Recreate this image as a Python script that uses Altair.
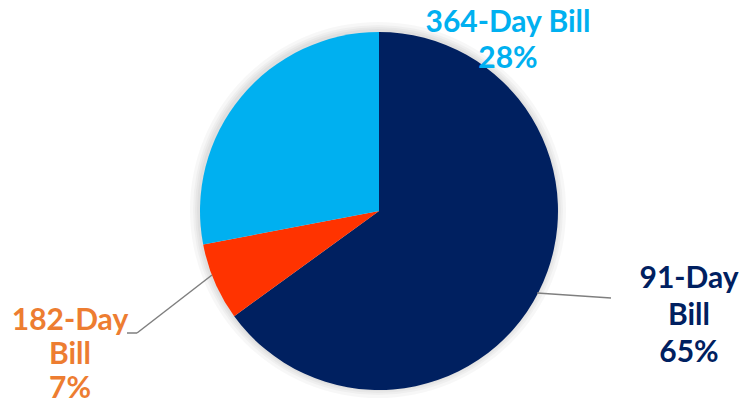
import altair as alt
import pandas as pd

categories = ["91-Day Bill", "182-Day Bill", "364-Day Bill"]
shares = [65, 7, 28]
order_idx = [0, 1, 2]
slice_colors = ["#002060", "#FF3300", "#00B0F0"]

df = pd.DataFrame({"cat": categories, "share": shares, "ord": order_idx})

CX, CY, R = 371, 203, 179
W, H = 737, 392

base = alt.Chart(df)

# soft shadow rings
shadow_layers = []
for r in [188, 185, 183, 181]:
    shadow_layers.append(
        alt.Chart(pd.DataFrame({"a": [0]})).mark_arc(
            theta=0, theta2=6.2832, outerRadius=r, color="#000000", opacity=0.03
        ).encode(x=alt.value(CX - 1), y=alt.value(CY - 1))
    )

pie = base.mark_arc(outerRadius=R).encode(
    theta=alt.Theta("share:Q", stack=True),
    order=alt.Order("ord:Q"),
    color=alt.Color("cat:N", scale=alt.Scale(domain=categories, range=slice_colors), legend=None),
    x=alt.value(CX),
    y=alt.value(CY),
)

def label(text, x, y, color, lh):
    return alt.Chart(pd.DataFrame({"t": [text]})).mark_text(
        font="Lato", fontSize=30, fontWeight="bold", color=color,
        align="center", baseline="alphabetic", lineBreak="\n", lineHeight=lh
    ).encode(text="t:N", x=alt.value(x), y=alt.value(y))

lab364 = label(f"364-Day Bill\n{shares[2]}%", 500, 24, "#00B0F0", 36)
lab91 = label(f"91-Day\nBill\n{shares[0]}%", 681, 280, "#002060", 37)
lab182 = label(f"182-Day\nBill\n{shares[1]}%", 62, 322, "#ED7D31", 34)

def seg(x1, y1, x2, y2):
    return alt.Chart(pd.DataFrame({"a": [0]})).mark_rule(color="#7F7F7F", strokeWidth=1.5).encode(
        x=alt.value(x1), y=alt.value(y1), x2=alt.value(x2), y2=alt.value(y2)
    )

lines = [seg(529, 285, 603, 290), seg(204, 267, 129, 325), seg(129, 325, 119, 325)]

chart = alt.layer(*shadow_layers, pie, *lines, lab364, lab91, lab182).properties(
    width=W, height=H, autosize=alt.AutoSizeParams(type="none"), padding=0
).configure_view(stroke=None)

chart.save("out.html", embed_options={"renderer": "svg", "actions": False})
